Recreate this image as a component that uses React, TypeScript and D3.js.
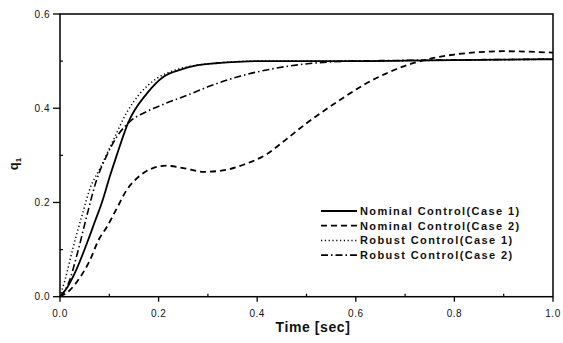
import React from "react";
import * as d3 from "d3";

const xTicks = [0, 0.2, 0.4, 0.6, 0.8, 1.0];
const yTicks = [0, 0.2, 0.4, 0.6];
const xTickLabels = ["0.0", "0.2", "0.4", "0.6", "0.8", "1.0"];
const yTickLabels = ["0.0", "0.2", "0.4", "0.6"];

const nominal1T = [0, 0.015, 0.03, 0.057, 0.071, 0.085, 0.101, 0.115, 0.139, 0.176, 0.21, 0.245, 0.277, 0.32, 0.351, 0.4, 0.5, 0.6, 0.7, 0.8, 0.9, 1.0];
const nominal1Q = [0, 0.02, 0.05, 0.12, 0.16, 0.2, 0.255, 0.3, 0.371, 0.431, 0.467, 0.482, 0.491, 0.496, 0.498, 0.5, 0.5, 0.5, 0.501, 0.502, 0.503, 0.504];

const nominal2T = [0, 0.02, 0.04, 0.061, 0.078, 0.095, 0.115, 0.135, 0.159, 0.186, 0.215, 0.25, 0.291, 0.33, 0.372, 0.42, 0.46, 0.5, 0.54, 0.58, 0.62, 0.66, 0.7, 0.75, 0.8, 0.85, 0.9, 0.95, 1.0];
const nominal2Q = [0, 0.014, 0.04, 0.078, 0.12, 0.148, 0.187, 0.226, 0.254, 0.272, 0.278, 0.273, 0.265, 0.268, 0.28, 0.303, 0.335, 0.368, 0.398, 0.426, 0.452, 0.473, 0.49, 0.505, 0.514, 0.519, 0.521, 0.52, 0.518];

const robust1T = [0, 0.01, 0.027, 0.044, 0.061, 0.081, 0.108, 0.135, 0.162, 0.196, 0.23, 0.27, 0.32, 0.4, 0.5, 0.6, 0.7, 0.8, 0.9, 1.0];
const robust1Q = [0, 0.035, 0.106, 0.17, 0.23, 0.272, 0.332, 0.39, 0.431, 0.463, 0.48, 0.49, 0.496, 0.5, 0.5, 0.5, 0.501, 0.502, 0.503, 0.504];

const robust2T = [0, 0.017, 0.037, 0.054, 0.074, 0.095, 0.115, 0.142, 0.176, 0.216, 0.264, 0.304, 0.365, 0.433, 0.507, 0.588, 0.65, 0.75, 0.85, 1.0];
const robust2Q = [0, 0.028, 0.099, 0.17, 0.247, 0.3, 0.339, 0.372, 0.393, 0.411, 0.43, 0.447, 0.468, 0.484, 0.495, 0.5, 0.501, 0.502, 0.503, 0.504];

const seriesNames = ["Nominal Control(Case 1)", "Nominal Control(Case 2)", "Robust Control(Case 1)", "Robust Control(Case 2)"];

const W = 563, H = 343;
const x = d3.scaleLinear().domain([0, 1]).range([60, 553]);
const y = d3.scaleLinear().domain([0, 0.6]).range([296.7, 14]);

const line = d3
  .line<[number, number]>()
  .x((d) => x(d[0]))
  .y((d) => y(d[1]))
  .curve(d3.curveMonotoneX);

const zip = (t: number[], q: number[]) => t.map((v, i) => [v, q[i]] as [number, number]);

const series = [
  { name: seriesNames[0], data: zip(nominal1T, nominal1Q), dash: "", width: 1.8 },
  { name: seriesNames[1], data: zip(nominal2T, nominal2Q), dash: "6,4", width: 1.8 },
  { name: seriesNames[2], data: zip(robust1T, robust1Q), dash: "1.2,2.6", width: 1.5 },
  { name: seriesNames[3], data: zip(robust2T, robust2Q), dash: "7,3,1.5,3", width: 1.6 },
];

const minorX = [0.1, 0.3, 0.5, 0.7, 0.9];
const minorY = [0.1, 0.3, 0.5];

export default function App() {
  const font = "'Liberation Sans', Arial, sans-serif";
  return (
    <svg width={W} height={H} style={{ position: "absolute", left: 0, top: 0, background: "#fff" }}>
      <rect x={0} y={0} width={W} height={H} fill="#fff" />
      <rect x={x(0)} y={y(0.6)} width={x(1) - x(0)} height={y(0) - y(0.6)} fill="none" stroke="#000" strokeWidth={1.5} />
      {xTicks.map((t, i) => (
        <g key={"xt" + i}>
          <line x1={x(t)} x2={x(t)} y1={y(0)} y2={y(0) + 5} stroke="#000" strokeWidth={1.3} />
          <text x={x(t)} y={317} textAnchor="middle" fontFamily={font} fontSize={10} letterSpacing={0.5} fill="#111">
            {xTickLabels[i]}
          </text>
        </g>
      ))}
      {minorX.map((t, i) => (
        <line key={"xm" + i} x1={x(t)} x2={x(t)} y1={y(0)} y2={y(0) - 3} stroke="#000" strokeWidth={1.2} />
      ))}
      {yTicks.map((t, i) => (
        <g key={"yt" + i}>
          <line x1={x(0) - 7} x2={x(0)} y1={y(t)} y2={y(t)} stroke="#000" strokeWidth={1.3} />
          <text x={50} y={y(t) + 3.5} textAnchor="end" fontFamily={font} fontSize={10} letterSpacing={0.5} fill="#111">
            {yTickLabels[i]}
          </text>
        </g>
      ))}
      {minorY.map((t, i) => (
        <line key={"ym" + i} x1={x(0)} x2={x(0) + 3} y1={y(t)} y2={y(t)} stroke="#000" strokeWidth={1.2} />
      ))}
      {series.map((s, i) => (
        <path key={"s" + i} d={line(s.data) || ""} fill="none" stroke="#000" strokeWidth={s.width} strokeDasharray={s.dash} />
      ))}
      {series.map((s, i) => {
        const ly = 211 + i * 14.7;
        return (
          <g key={"lg" + i}>
            <line x1={321} x2={357} y1={ly} y2={ly} stroke="#000" strokeWidth={s.width} strokeDasharray={s.dash} />
            <text x={360} y={ly + 4} fontFamily={font} fontSize={11} fontWeight="bold" letterSpacing={1.4} fill="#111">
              {s.name}
            </text>
          </g>
        );
      })}
      <text x={313} y={332} textAnchor="middle" fontFamily={font} fontSize={14} fontWeight="bold" letterSpacing={0.6} fill="#111">
        Time [sec]
      </text>
      <text transform="translate(18,164) rotate(-90)" textAnchor="middle" fontFamily={font} fontSize={13} fontWeight="bold" fill="#111">
        q<tspan fontSize={8} dy={3}>1</tspan>
      </text>
    </svg>
  );
}
